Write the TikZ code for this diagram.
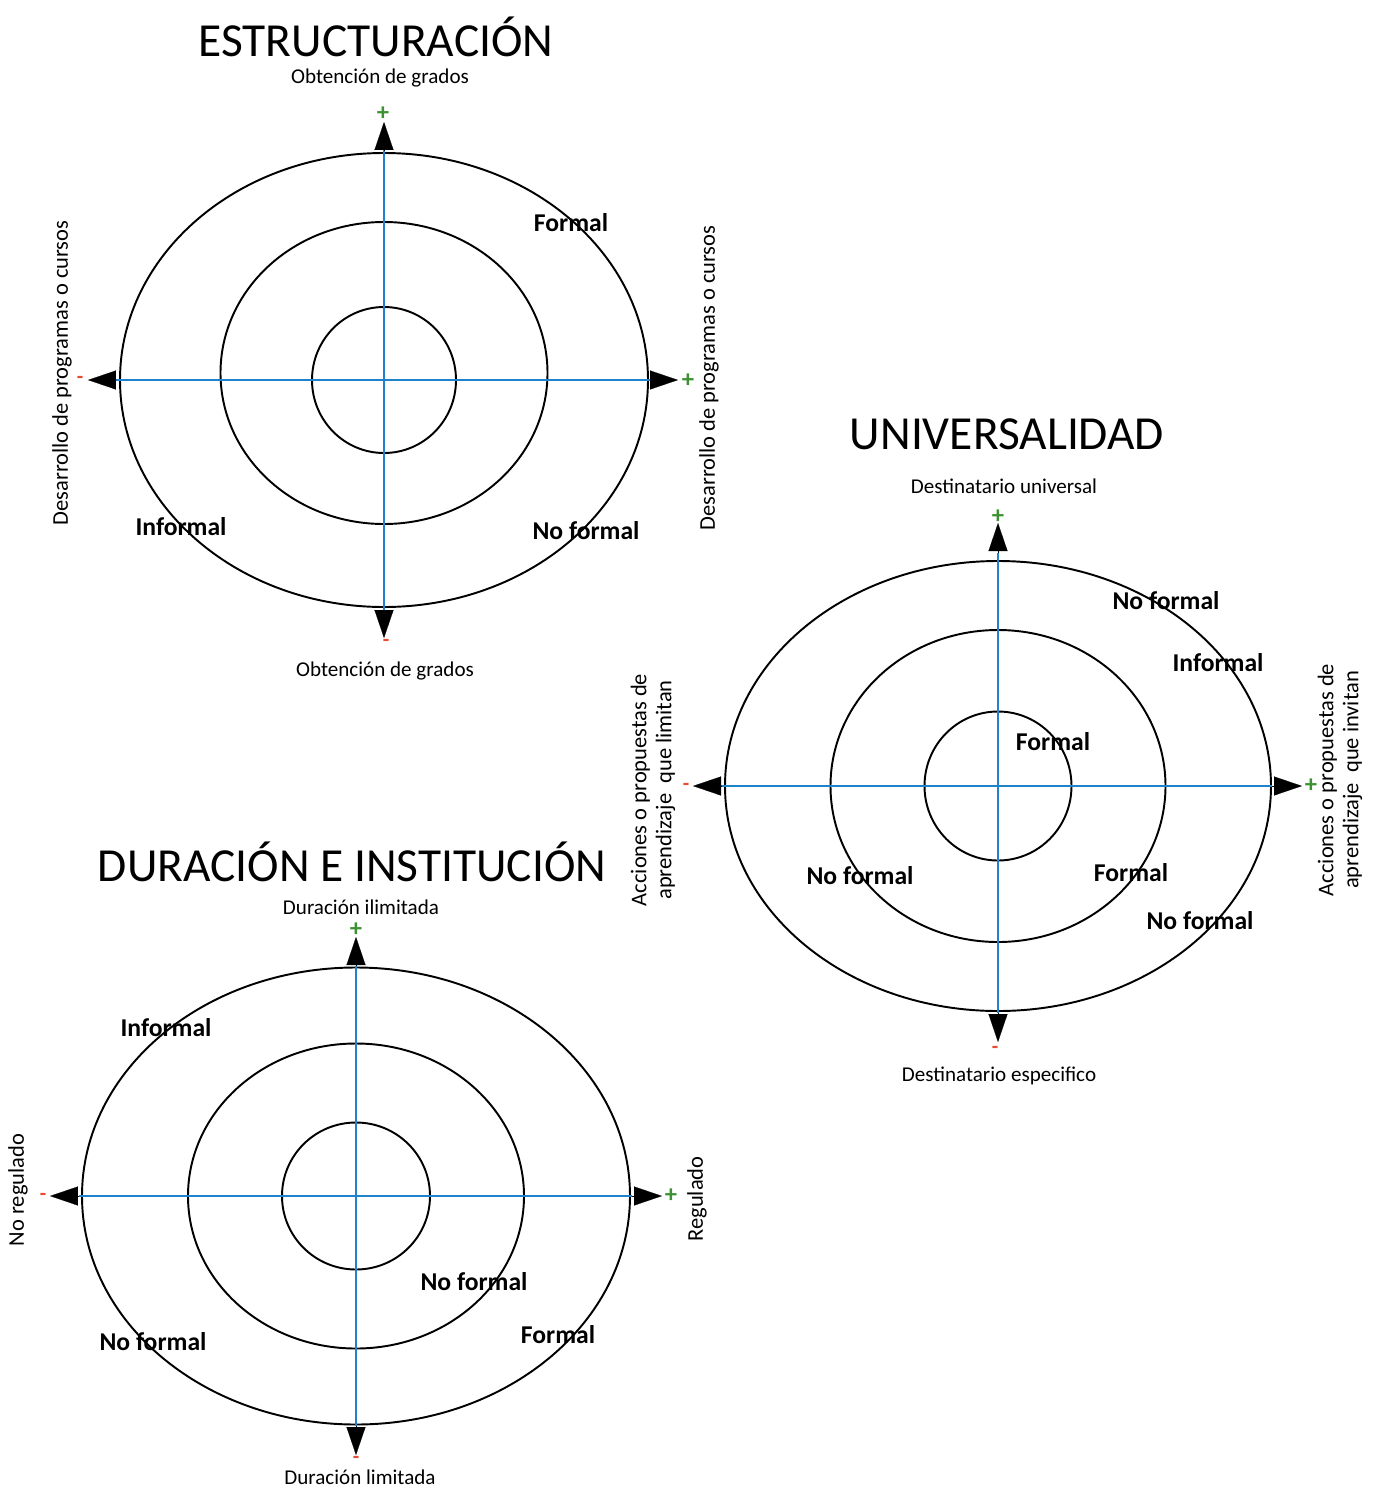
\documentclass[tikz,border=0pt]{standalone}
\usepackage{fontspec}
\setmainfont{Carlito}
\usetikzlibrary{arrows.meta}
\definecolor{axisblue}{RGB}{30,130,205}
\definecolor{plusgreen}{RGB}{60,145,50}
\definecolor{minusred}{RGB}{235,75,50}
\begin{document}
\begin{tikzpicture}[
	x=0.02cm, y=-0.02cm,
	ring/.style={draw=black, line width=1.1pt},
	axis/.style={draw=axisblue, line width=0.8pt},
	tip/.style={-{Triangle[length=0.56cm, width=0.38cm]}, line width=0.1pt, draw=black, fill=black},
	title/.style={font=\fontsize{27}{30}\selectfont},
	axislabel/.style={font=\fontsize{12}{14}\selectfont, inner sep=1pt},
	sidelabel/.style={font=\fontsize{12.8}{14.3}\selectfont, rotate=90, align=center},
	kind/.style={font=\fontsize{14.6}{16}\selectfont\bfseries},
	plus/.style={text=plusgreen, font=\fontsize{14}{14}\selectfont\bfseries, inner sep=0pt},
	minus/.style={text=minusred, font=\fontsize{12}{12}\selectfont\bfseries, inner sep=0pt},
	]
\useasboundingbox (0,0) rectangle (1379,1488);

% ESTRUCTURACION
\coordinate (c1) at (384,380);
\draw[ring] (c1) ellipse [x radius=264, y radius=227];
\draw[ring] (384,373) ellipse [x radius=163.5, y radius=151];
\draw[ring] (c1) ellipse [x radius=72, y radius=73];
\coordinate (t1) at (384,150); \coordinate (tt1) at (384,122);
\coordinate (b1) at (384,610); \coordinate (bt1) at (384,638);
\coordinate (l1) at (114,380); \coordinate (lt1) at (88,380);
\coordinate (r1) at (650,380); \coordinate (rt1) at (678,380);
\draw[axis] (t1) -- (b1);
\draw[axis] (l1) -- (r1);
\draw[tip] (t1) -- (tt1);
\draw[tip] (b1) -- (bt1);
\draw[tip] (l1) -- (lt1);
\draw[tip] (r1) -- (rt1);
\node[plus] (p1t) at (383,114) {+};
\node[plus] (p1r) at (688,381) {+};
\node[minus] (m1l) at (80,380) {-};
\node[minus] (m1b) at (386,643) {-};
\node[title] (h1) at (376,37) {ESTRUCTURACIÓN};
\node[axislabel] (a1t) at (380,78) {Obtención de grados};
\node[axislabel] (a1b) at (385,671) {Obtención de grados};
\node[sidelabel] (a1l) at (62,373) {Desarrollo de programas o cursos};
\node[sidelabel] (a1r) at (709,378) {Desarrollo de programas o cursos};
\node[kind] (k1a) at (571,223) {Formal};
\node[kind] (k1b) at (181,527) {Informal};
\node[kind] (k1c) at (586,531) {No formal};

% UNIVERSALIDAD
\coordinate (c2) at (998,786);
\draw[ring] (c2) ellipse [x radius=273, y radius=225];
\draw[ring] (c2) ellipse [x radius=167.5, y radius=156];
\draw[ring] (c2) ellipse [x radius=73.5, y radius=74.5];
\coordinate (t2) at (998,553); \coordinate (tt2) at (998,523);
\coordinate (b2) at (998,1013); \coordinate (bt2) at (998,1042);
\coordinate (l2) at (721,786); \coordinate (lt2) at (693,786);
\coordinate (r2) at (1272,786); \coordinate (rt2) at (1302,786);
\draw[axis] (t2) -- (b2);
\draw[axis] (l2) -- (r2);
\draw[tip] (t2) -- (tt2);
\draw[tip] (b2) -- (bt2);
\draw[tip] (l2) -- (lt2);
\draw[tip] (r2) -- (rt2);
\node[plus] (p2t) at (998,517) {+};
\node[plus] (p2r) at (1311,786) {+};
\node[minus] (m2l) at (686,787) {-};
\node[minus] (m2b) at (995,1050) {-};
\node[title] (h2) at (1007,434) {UNIVERSALIDAD};
\node[axislabel] (a2t) at (1004,486) {Destinatario universal};
\node[axislabel] (a2b) at (999,1076) {Destinatario especifico};
\node[sidelabel] (a2l) at (653,790) {Acciones o propuestas de\\aprendizaje\ \ que limitan};
\node[sidelabel] (a2r) at (1340,780) {Acciones o propuestas de\\aprendizaje\ \ que invitan};
\node[kind] (k2a) at (1166,601) {No formal};
\node[kind] (k2b) at (1218,663) {Informal};
\node[kind] (k2c) at (1053,742) {Formal};
\node[kind] (k2d) at (860,876) {No formal};
\node[kind] (k2e) at (1131,873) {Formal};
\node[kind] (k2f) at (1200,921) {No formal};

% DURACION E INSTITUCION
\coordinate (c3) at (356,1196);
\draw[ring] (c3) ellipse [x radius=274, y radius=228.5];
\draw[ring] (c3) ellipse [x radius=168, y radius=152.5];
\draw[ring] (c3) ellipse [x radius=74, y radius=73.5];
\coordinate (t3) at (356,966); \coordinate (tt3) at (356,937);
\coordinate (b3) at (356,1426); \coordinate (bt3) at (356,1455);
\coordinate (l3) at (79,1196); \coordinate (lt3) at (50,1196);
\coordinate (r3) at (632,1196); \coordinate (rt3) at (662,1196);
\draw[axis] (t3) -- (b3);
\draw[axis] (l3) -- (r3);
\draw[tip] (t3) -- (tt3);
\draw[tip] (b3) -- (bt3);
\draw[tip] (l3) -- (lt3);
\draw[tip] (r3) -- (rt3);
\node[plus] (p3t) at (356,930) {+};
\node[plus] (p3r) at (671,1196) {+};
\node[minus] (m3l) at (43,1197) {-};
\node[minus] (m3b) at (356,1460) {-};
\node[title] (h3) at (352,862) {DURACIÓN E INSTITUCIÓN};
\node[axislabel] (a3t) at (361,907) {Duración ilimitada};
\node[axislabel] (a3b) at (360,1477) {Duración limitada};
\node[sidelabel] (a3l) at (18,1190) {No regulado};
\node[sidelabel] (a3r) at (697,1199) {Regulado};
\node[kind] (k3a) at (166,1028) {Informal};
\node[kind] (k3b) at (474,1282) {No formal};
\node[kind] (k3c) at (153,1342) {No formal};
\node[kind] (k3d) at (558,1335) {Formal};
\end{tikzpicture}
\end{document}
